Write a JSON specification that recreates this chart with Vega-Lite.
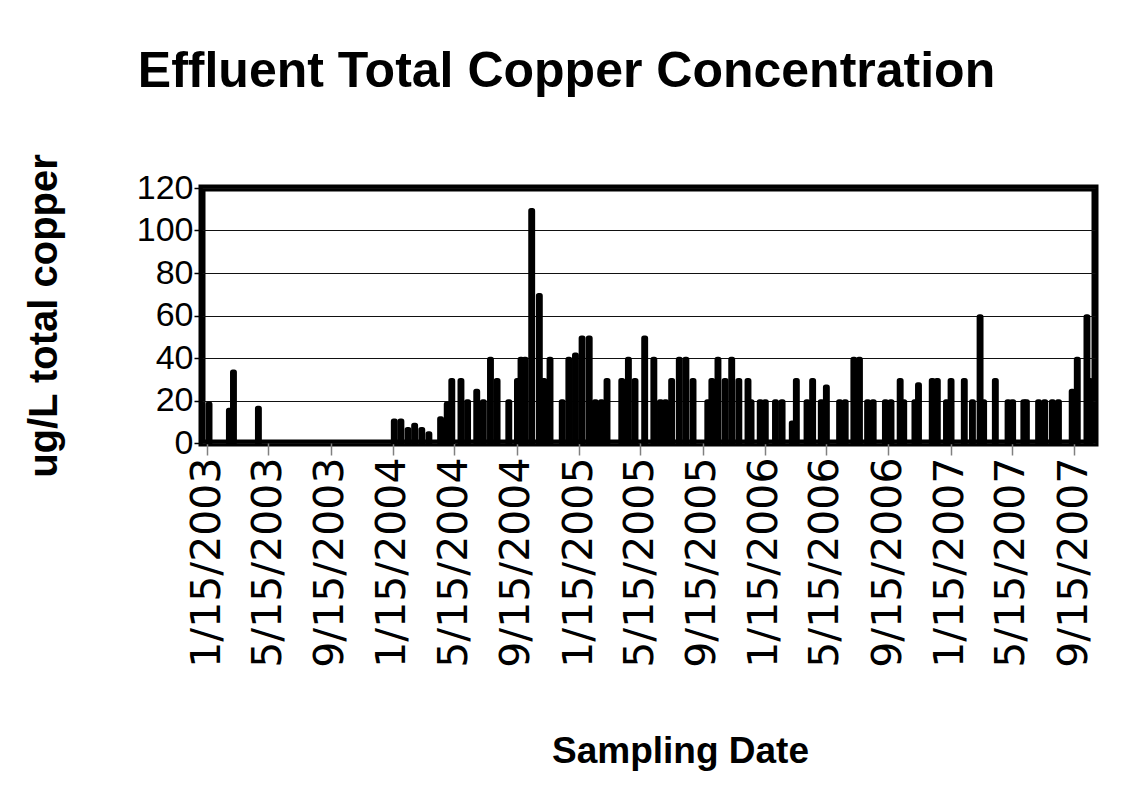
{
  "$schema": "https://vega.github.io/schema/vega-lite/v6.json",
  "autosize": {"type": "none"},
  "padding": {"left": 202, "top": 188, "right": 38, "bottom": 342},
  "width": 893,
  "height": 255,
  "background": "white",
  "title": {
    "text": "Effluent Total Copper Concentration",
    "font": "Liberation Sans",
    "fontSize": 50,
    "fontWeight": "bold",
    "color": "black",
    "frame": "group",
    "anchor": "middle",
    "dx": -82,
    "offset": 56
  },
  "config": {
    "view": {"stroke": "black", "strokeWidth": 7},
    "axis": {"titleFont": "Liberation Sans", "labelColor": "black", "titleColor": "black"},
    "axisY": {"labelFont": "Liberation Sans"},
    "axisX": {"labelFont": "DejaVu Sans"}
  },
  "data": {
    "values": [
      {"date": "2003-01-19", "copper": 19},
      {"date": "2003-02-28", "copper": 16},
      {"date": "2003-03-08", "copper": 34},
      {"date": "2003-04-26", "copper": 17},
      {"date": "2004-01-18", "copper": 11},
      {"date": "2004-01-31", "copper": 11},
      {"date": "2004-02-14", "copper": 7},
      {"date": "2004-02-27", "copper": 9},
      {"date": "2004-03-12", "copper": 7},
      {"date": "2004-03-26", "copper": 5},
      {"date": "2004-04-18", "copper": 12},
      {"date": "2004-05-01", "copper": 19},
      {"date": "2004-05-10", "copper": 30},
      {"date": "2004-05-28", "copper": 30},
      {"date": "2004-06-10", "copper": 20},
      {"date": "2004-06-28", "copper": 25},
      {"date": "2004-07-11", "copper": 20},
      {"date": "2004-07-25", "copper": 40},
      {"date": "2004-08-07", "copper": 30},
      {"date": "2004-08-30", "copper": 20},
      {"date": "2004-09-16", "copper": 30},
      {"date": "2004-09-23", "copper": 40},
      {"date": "2004-10-01", "copper": 40},
      {"date": "2004-10-14", "copper": 110},
      {"date": "2004-10-29", "copper": 70},
      {"date": "2004-11-07", "copper": 30},
      {"date": "2004-11-19", "copper": 40},
      {"date": "2004-12-13", "copper": 20},
      {"date": "2004-12-26", "copper": 40},
      {"date": "2005-01-08", "copper": 42},
      {"date": "2005-01-21", "copper": 50},
      {"date": "2005-02-04", "copper": 50},
      {"date": "2005-02-16", "copper": 20},
      {"date": "2005-02-28", "copper": 20},
      {"date": "2005-03-11", "copper": 30},
      {"date": "2005-04-09", "copper": 30},
      {"date": "2005-04-22", "copper": 40},
      {"date": "2005-05-05", "copper": 30},
      {"date": "2005-05-24", "copper": 50},
      {"date": "2005-06-11", "copper": 40},
      {"date": "2005-06-24", "copper": 20},
      {"date": "2005-07-04", "copper": 20},
      {"date": "2005-07-16", "copper": 30},
      {"date": "2005-07-31", "copper": 40},
      {"date": "2005-08-13", "copper": 40},
      {"date": "2005-08-27", "copper": 30},
      {"date": "2005-09-25", "copper": 20},
      {"date": "2005-10-03", "copper": 30},
      {"date": "2005-10-15", "copper": 40},
      {"date": "2005-10-29", "copper": 30},
      {"date": "2005-11-11", "copper": 40},
      {"date": "2005-11-25", "copper": 30},
      {"date": "2005-12-13", "copper": 30},
      {"date": "2005-12-19", "copper": 20},
      {"date": "2006-01-06", "copper": 20},
      {"date": "2006-01-16", "copper": 20},
      {"date": "2006-02-05", "copper": 20},
      {"date": "2006-02-18", "copper": 20},
      {"date": "2006-03-10", "copper": 10},
      {"date": "2006-03-18", "copper": 30},
      {"date": "2006-04-08", "copper": 20},
      {"date": "2006-04-19", "copper": 30},
      {"date": "2006-05-06", "copper": 20},
      {"date": "2006-05-16", "copper": 27},
      {"date": "2006-06-11", "copper": 20},
      {"date": "2006-06-22", "copper": 20},
      {"date": "2006-07-09", "copper": 40},
      {"date": "2006-07-20", "copper": 40},
      {"date": "2006-08-05", "copper": 20},
      {"date": "2006-08-16", "copper": 20},
      {"date": "2006-09-09", "copper": 20},
      {"date": "2006-09-20", "copper": 20},
      {"date": "2006-10-08", "copper": 30},
      {"date": "2006-10-15", "copper": 20},
      {"date": "2006-11-06", "copper": 20},
      {"date": "2006-11-13", "copper": 28},
      {"date": "2006-12-10", "copper": 30},
      {"date": "2006-12-20", "copper": 30},
      {"date": "2007-01-07", "copper": 20},
      {"date": "2007-01-16", "copper": 30},
      {"date": "2007-02-11", "copper": 30},
      {"date": "2007-02-27", "copper": 20},
      {"date": "2007-03-14", "copper": 60},
      {"date": "2007-03-21", "copper": 20},
      {"date": "2007-04-13", "copper": 30},
      {"date": "2007-05-08", "copper": 20},
      {"date": "2007-05-17", "copper": 20},
      {"date": "2007-06-08", "copper": 20},
      {"date": "2007-06-13", "copper": 20},
      {"date": "2007-07-07", "copper": 20},
      {"date": "2007-07-19", "copper": 20},
      {"date": "2007-08-03", "copper": 20},
      {"date": "2007-08-15", "copper": 20},
      {"date": "2007-09-11", "copper": 25},
      {"date": "2007-09-21", "copper": 40},
      {"date": "2007-10-10", "copper": 60},
      {"date": "2007-10-16", "copper": 30}
    ]
  },
  "mark": {
    "type": "bar",
    "width": 4.5,
    "color": "black",
    "stroke": "black",
    "strokeWidth": 2.4,
    "strokeJoin": "round",
    "cornerRadiusTopLeft": 1.5,
    "cornerRadiusTopRight": 1.5,
    "clip": false
  },
  "encoding": {
    "x": {
      "field": "date",
      "type": "temporal",
      "scale": {
        "type": "utc",
        "domain": [
          {"year": 2003, "month": 1, "date": 15, "utc": true},
          {"year": 2007, "month": 10, "date": 16, "utc": true}
        ],
        "nice": false
      },
      "axis": {
        "title": "Sampling Date",
        "titleFontSize": 37,
        "titleFontWeight": "bold",
        "titleX": 478,
        "titleY": 290,
        "titleBaseline": "top",
        "values": [
          {"year": 2003, "month": 1, "date": 15, "utc": true},
          {"year": 2003, "month": 5, "date": 15, "utc": true},
          {"year": 2003, "month": 9, "date": 15, "utc": true},
          {"year": 2004, "month": 1, "date": 15, "utc": true},
          {"year": 2004, "month": 5, "date": 15, "utc": true},
          {"year": 2004, "month": 9, "date": 15, "utc": true},
          {"year": 2005, "month": 1, "date": 15, "utc": true},
          {"year": 2005, "month": 5, "date": 15, "utc": true},
          {"year": 2005, "month": 9, "date": 15, "utc": true},
          {"year": 2006, "month": 1, "date": 15, "utc": true},
          {"year": 2006, "month": 5, "date": 15, "utc": true},
          {"year": 2006, "month": 9, "date": 15, "utc": true},
          {"year": 2007, "month": 1, "date": 15, "utc": true},
          {"year": 2007, "month": 5, "date": 15, "utc": true},
          {"year": 2007, "month": 9, "date": 15, "utc": true}
        ],
        "labelExpr": "utcFormat(datum.value, '%-m/%-d/%Y')",
        "labelAngle": 270,
        "labelFontSize": 41,
        "labelLimit": 400,
        "labelPadding": 2,
        "labelOverlap": false,
        "labelFlush": false,
        "tickColor": "#808080",
        "tickWidth": 1.5,
        "tickSize": 12,
        "domain": false,
        "grid": false
      }
    },
    "y": {
      "field": "copper",
      "type": "quantitative",
      "scale": {"domain": [0, 120], "nice": false},
      "axis": {
        "title": "ug/L total copper",
        "titleFontSize": 40,
        "titleFontWeight": "bold",
        "titlePadding": 72,
        "values": [0, 20, 40, 60, 80, 100, 120],
        "labelFontSize": 34,
        "labelPadding": 1,
        "labelFlush": false,
        "tickColor": "black",
        "tickWidth": 1.5,
        "tickSize": 8,
        "domain": false,
        "grid": true,
        "gridColor": "#111",
        "gridWidth": 1.2
      }
    }
  }
}
